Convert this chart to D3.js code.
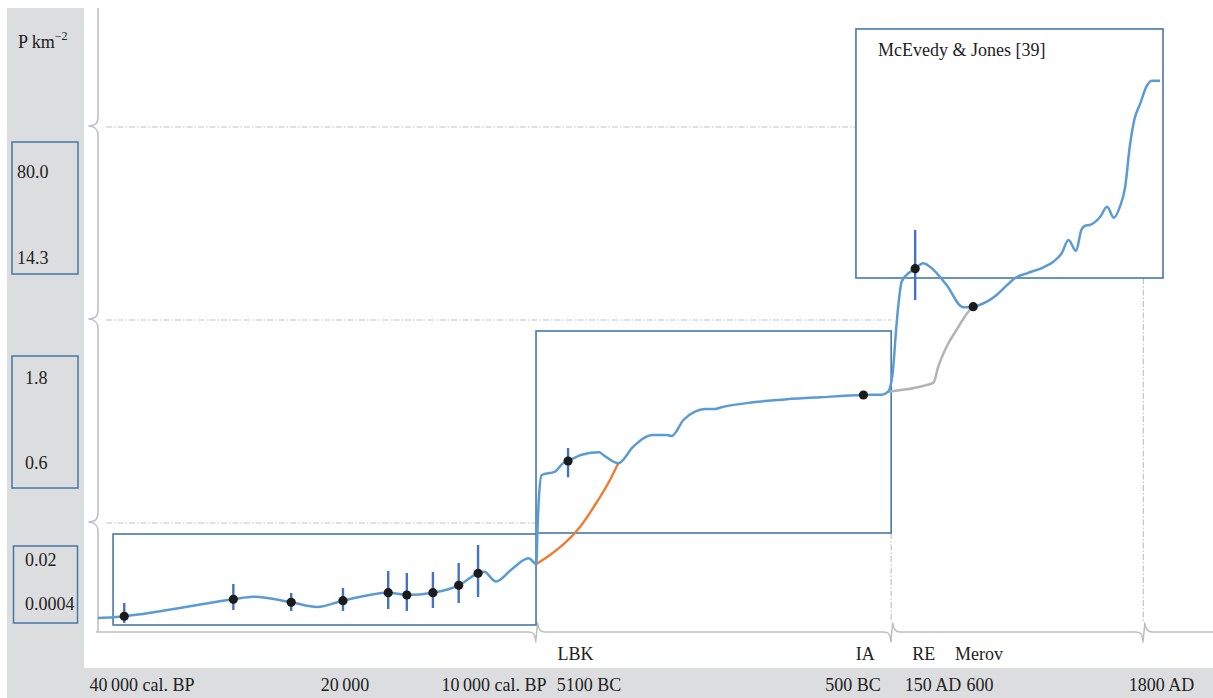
<!DOCTYPE html>
<html>
<head>
<meta charset="utf-8">
<script src="https://cdn.jsdelivr.net/npm/d3@7"></script>
<style>
  html, body { margin: 0; padding: 0; background: #fff; }
  svg { display: block; font-family: "Liberation Serif", "Times New Roman", serif; }
</style>
</head>
<body>
<svg id="chart" width="1213" height="698"></svg>
<script>
// Time in calendar years (negative = BC), density in persons per km².
const timeTicks = [-38050, -18050, -8050, -5100, -500, 150, 600, 1800];
const timeTickLabels = ["40\u2009000 cal. BP", "20\u2009000", "10\u2009000 cal. BP", "5100 BC", "500 BC", "150 AD", "600", "1800 AD"];
const periodYears = [-5520, -400, 75, 590];
const periodLabels = ["LBK", "IA", "RE", "Merov"];
const densityTicks = [80.0, 14.3, 1.8, 0.6, 0.02, 0.0004];
const densityTickLabels = ["80.0", "14.3", "1.8", "0.6", "0.02", "0.0004"];
const densityBreaks = [0.1, 5, 100];
const timeBreaks = [-6745, -190, 1680];

// Reconstructed population density curve
const curveYears = [
  -42400, -40900, -39800, -29050, -27100, -23350, -20800, -18250, -15150, -13900,
  -12150, -10420, -9120, -8720, -7990, -7490, -6975, -6735, -6700, -6640,
  -6570, -6155, -5905, -5750, -5325, -4920, -4850, -4590, -4330, -3990,
  -3745, -3660, -3455, -3255, -3080, -2905, -2820, -2240, -1655, -1075,
  -415, -265, -215, -200, -175, -150, -130, -105, -65, 5,
  70, 125, 280, 440, 535, 645, 710, 775, 830, 910,
  1020, 1085, 1140, 1185, 1235, 1270, 1295, 1325, 1395, 1440,
  1485, 1525, 1560, 1590, 1620, 1660, 1700, 1735, 1790
];
const curveDensity = [
  0.0002, 0.00021, 0.000225, 0.0025, 0.00365, 0.00116, 0.000357, 0.00187, 0.00543, 0.00441,
  0.00543, 0.00873, 0.01408, 0.0148, 0.0104, 0.0160, 0.02368, 0.0182, 0.0849, 0.375,
  0.5, 0.5275, 0.5975, 0.628, 0.717, 0.751, 0.713, 0.5975, 0.830, 0.995,
  0.995, 0.981, 1.207, 1.324, 1.362, 1.362, 1.381, 1.457, 1.499, 1.528,
  1.56, 1.564, 1.607, 1.659, 2.241, 4.448, 7.505, 10.745, 11.75, 12.695,
  13.505, 12.995, 10.25, 6.905, 6.995, 7.745, 8.75, 10.145, 11.255, 12.005,
  12.905, 13.745, 17.89, 28.05, 19.65, 35.69, 38.98, 39.51, 45.85, 53.49,
  45.09, 53.49, 68.77, 91.24, 107.45, 125.2, 142.9, 149.3, 149.3
];

// Early Neolithic alternative (orange)
const lbkYears = [-6735, -6310, -5845, -5380, -4995, -4735, -4590];
const lbkDensity = [0.0182, 0.0308, 0.0568, 0.0914, 0.25, 0.4583, 0.5975];

// Iron Age to Merovingian without the Roman peak (grey)
const altYears = [-215, -65, 70, 155, 200, 280, 375, 488, 535];
const altDensity = [1.607, 1.640, 1.687, 1.734, 2.423, 3.527, 4.448, 6.245, 6.995];

// Point estimates with ranges
const estYears = [-39800, -29050, -23350, -18250, -15150, -13900, -12150, -10420, -9120, -5750, -415, 5, 535];
const estDensity = [0.000225, 0.0025, 0.00116, 0.00187, 0.00543, 0.00441, 0.00543, 0.00873, 0.01408, 0.628, 1.56, 12.695, 6.995];
const estLow = [0.000129, 0.000314, 0.0003, 0.0003, 0.000329, 0.0003, 0.000343, 0.000845, 0.00352, 0.481, null, 8.0, null];
const estHigh = [0.000845, 0.00931, 0.0053, 0.00753, 0.0151, 0.0142, 0.01465, 0.01866, 0.0524, 0.812, null, 35.69, null];

// Framed periods
const frameStart = [-40900, -6745, -476];
const frameEnd = [-6745, -190, 1810];
const frameLow = [0.0001, 0.0784, 11.3];
const frameHigh = [0.0762, 4.393, 204.3];
const frameNote = ["", "", "McEvedy & Jones [39]"];

const W = 1213, H = 698;
const svg = d3.select("#chart");

// Piecewise scales: each band of the broken axes has its own resolution.
const x = d3.scaleLinear()
  .domain(timeTicks)
  .range([142, 345, 494, 589, 853, 933, 980, 1161.5]);
const y = d3.scaleLinear()
  .domain([0, 0.0004, 0.02, 0.1, 0.6, 1.8, 5, 14.3, 80, 100, 150])
  .range([632, 604, 560, 523, 463, 378, 320, 258, 172, 127, 80]);

const BOX = "#4677a8", AXIS = "#bdbdbd", DASH = "#c4c4c4", PANEL = "#dcdddf", INK = "#222";

// Grey panels
svg.append("rect").attr("x", 7).attr("y", 8).attr("width", 77).attr("height", H - 8).attr("fill", PANEL);
svg.append("rect").attr("x", 7).attr("y", 668).attr("width", W - 7).attr("height", 30).attr("fill", PANEL);

// Density label boxes
const labelBoxes = [[12, 142, 66, 132], [12, 356, 66, 132], [13.5, 546, 64, 77]];
svg.selectAll("rect.lbox").data(labelBoxes).join("rect")
  .attr("class", "lbox")
  .attr("x", d => d[0]).attr("y", d => d[1]).attr("width", d => d[2]).attr("height", d => d[3])
  .attr("fill", "none").attr("stroke", BOX).attr("stroke-width", 1.5);

svg.selectAll("text.ytick").data(densityTicks).join("text")
  .attr("class", "ytick")
  .attr("x", (d, i) => i < 2 ? 17 : 25)
  .attr("y", d => y(d) + 6)
  .attr("font-size", 18).attr("fill", INK)
  .text((d, i) => densityTickLabels[i]);

const unit = svg.append("text").attr("x", 18).attr("y", 48).attr("font-size", 18).attr("fill", INK);
unit.append("tspan").text("P km");
unit.append("tspan").attr("dy", -8).attr("font-size", 12).text("\u22122");

// Axes with break marks
const axisX = 98, base = y(0);
const ap = d3.path();
ap.moveTo(axisX, 8);
densityBreaks.map(y).sort((a, b) => a - b).forEach(by => {
  ap.lineTo(axisX, by - 11);
  ap.bezierCurveTo(axisX, by - 3, axisX - 3, by - 1.5, axisX - 9, by - 1);
  ap.bezierCurveTo(axisX - 3, by - 0.5, axisX, by + 2, axisX, by + 9);
});
ap.lineTo(axisX, base);
ap.moveTo(96, base);
timeBreaks.map(x).forEach(bx => {
  ap.lineTo(bx - 8, base);
  ap.bezierCurveTo(bx - 3, base, bx - 1, base + 1, bx - 0.3, base + 10);
  ap.lineTo(bx + 1.5, base - 9);
  ap.bezierCurveTo(bx + 2.5, base - 3, bx + 4, base, bx + 9, base);
});
ap.lineTo(W, base);
svg.append("path").attr("d", ap.toString()).attr("fill", "none")
  .attr("stroke", AXIS).attr("stroke-width", 1.5).attr("stroke-linejoin", "round");

// Dash-dot guides at the breaks
const guideEnds = [x(frameStart[1]), x(frameEnd[1]), x(frameStart[2])];
svg.selectAll("line.hguide").data(densityBreaks).join("line")
  .attr("class", "hguide")
  .attr("x1", axisX + 8).attr("x2", (d, i) => guideEnds[i])
  .attr("y1", d => y(d)).attr("y2", d => y(d))
  .attr("stroke", DASH).attr("stroke-width", 1.2).attr("stroke-dasharray", "6,2,1.5,2");
const vGuideTop = [y(frameLow[1]), y(frameLow[2])];
svg.selectAll("line.vguide").data(timeBreaks.slice(1)).join("line")
  .attr("class", "vguide")
  .attr("x1", d => x(d)).attr("x2", d => x(d))
  .attr("y1", (d, i) => vGuideTop[i]).attr("y2", base - 10)
  .attr("stroke", DASH).attr("stroke-width", 1.2).attr("stroke-dasharray", "6,2,1.5,2");

// Period frames
svg.selectAll("rect.frame").data(frameStart).join("rect")
  .attr("class", "frame")
  .attr("x", (d, i) => x(d))
  .attr("y", (d, i) => y(frameHigh[i]))
  .attr("width", (d, i) => x(frameEnd[i]) - x(d))
  .attr("height", (d, i) => y(frameLow[i]) - y(frameHigh[i]))
  .attr("fill", "none").attr("stroke", BOX).attr("stroke-width", 1.6);
svg.selectAll("text.fnote").data(frameNote).join("text")
  .attr("class", "fnote")
  .attr("x", (d, i) => x(frameStart[i]) + 22)
  .attr("y", (d, i) => y(frameHigh[i]) + 27)
  .attr("font-size", 18).attr("fill", INK)
  .text(d => d);

// Curves
const line = d3.line().x(d => x(d[0])).y(d => y(d[1])).curve(d3.curveMonotoneX);
svg.append("path").datum(d3.zip(altYears, altDensity)).attr("d", line)
  .attr("fill", "none").attr("stroke", "#b3b3b3").attr("stroke-width", 2.5);
svg.append("path").datum(d3.zip(lbkYears, lbkDensity)).attr("d", line)
  .attr("fill", "none").attr("stroke", "#ed7d31").attr("stroke-width", 2.4);
svg.append("path").datum(d3.zip(curveYears, curveDensity)).attr("d", line)
  .attr("fill", "none").attr("stroke", "#5b9bd5").attr("stroke-width", 2.5)
  .attr("stroke-linejoin", "round");

// Ranges and point estimates
const est = estYears.map((t, i) => ({ t, d: estDensity[i], lo: estLow[i], hi: estHigh[i] }));
svg.selectAll("line.range").data(est.filter(e => e.lo !== null)).join("line")
  .attr("class", "range")
  .attr("x1", e => x(e.t)).attr("x2", e => x(e.t))
  .attr("y1", e => y(e.hi)).attr("y2", e => y(e.lo))
  .attr("stroke", "#4472c4").attr("stroke-width", 2.4);
svg.selectAll("circle.est").data(est).join("circle")
  .attr("class", "est")
  .attr("cx", e => x(e.t)).attr("cy", e => y(e.d)).attr("r", 4.6)
  .attr("fill", "#1b1b1b");

// Time axis labels
svg.selectAll("text.xtick").data(timeTicks).join("text")
  .attr("class", "xtick")
  .attr("x", d => x(d)).attr("y", 691)
  .attr("text-anchor", "middle").attr("font-size", 18).attr("fill", INK)
  .text((d, i) => timeTickLabels[i]);
svg.selectAll("text.period").data(periodYears).join("text")
  .attr("class", "period")
  .attr("x", d => x(d)).attr("y", 660)
  .attr("text-anchor", "middle").attr("font-size", 18).attr("fill", INK)
  .text((d, i) => periodLabels[i]);
</script>
</body>
</html>
